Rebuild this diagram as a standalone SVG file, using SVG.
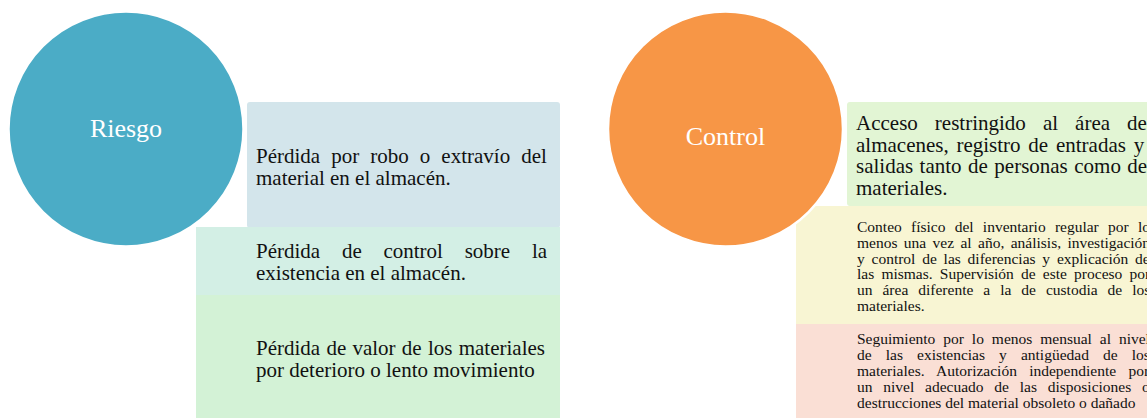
<svg xmlns="http://www.w3.org/2000/svg" width="1147" height="418" viewBox="0 0 1147 418">
<style>
.box{stroke:none}
.circ{stroke:#ffffff;stroke-width:2.5}
.ctext{font-family:"Liberation Serif","Times New Roman",serif;font-size:26px;fill:#ffffff;text-anchor:middle}
.t{font-family:"Liberation Serif","Times New Roman",serif;font-size:21px;fill:#111111}
.s{font-family:"Liberation Serif","Times New Roman",serif;font-size:15.5px;fill:#111111}
</style>
<rect width="1147" height="418" fill="#ffffff"/>

<g id="riesgo-box1">
<rect class="box" x="247" y="102" width="313" height="126" rx="3" fill="#d3e5eb"/>
<text class="t" x="256" y="163" word-spacing="5.8">Pérdida por robo o extravío del</text>
<text class="t" x="256" y="185">material en el almacén.</text>
</g>
<g id="riesgo-box2">
<rect class="box" x="196" y="227" width="364" height="69" fill="#d3efe5"/>
<text class="t" x="256" y="258" word-spacing="16.5">Pérdida de control sobre la</text>
<text class="t" x="256" y="280">existencia en el almacén.</text>
</g>
<g id="riesgo-box3">
<rect class="box" x="196" y="295" width="364" height="123" fill="#d3f2d6"/>
<text class="t" x="256" y="355" word-spacing="1">Pérdida de valor de los materiales</text>
<text class="t" x="256" y="377">por deterioro o lento movimiento</text>
</g>
<g id="riesgo">
<circle class="circ" cx="126" cy="129" r="117.5" fill="#4bacc6"/>
<text class="ctext" x="126" y="137">Riesgo</text>
</g>

<g id="control-box1">
<rect class="box" x="847" y="102" width="304" height="104" rx="3" fill="#e2f5d4"/>
<text class="t" x="856" y="130" word-spacing="11.8">Acceso restringido al área de</text>
<text class="t" x="856" y="152" word-spacing="2.5">almacenes, registro de entradas y</text>
<text class="t" x="856" y="173" word-spacing="1.2">salidas tanto de personas como de</text>
<text class="t" x="856" y="195">materiales.</text>
</g>
<g id="control-box2">
<rect class="box" x="796" y="206" width="355" height="119" fill="#f8f5d3"/>
<text class="s" x="857" y="232" word-spacing="5.35">Conteo físico del inventario regular por lo</text>
<text class="s" x="857" y="247.8" word-spacing="2.5">menos una vez al año, análisis, investigación</text>
<text class="s" x="857" y="263.6" word-spacing="2.9">y control de las diferencias y explicación de</text>
<text class="s" x="857" y="279.4" word-spacing="3.3">las mismas. Supervisión de este proceso por</text>
<text class="s" x="857" y="295.2" word-spacing="6.1">un área diferente a la de custodia de los</text>
<text class="s" x="857" y="311">materiales.</text>
</g>
<g id="control-box3">
<rect class="box" x="796" y="324" width="355" height="94" fill="#fadfd5"/>
<text class="s" x="857" y="344" word-spacing="4.05">Seguimiento por lo menos mensual al nivel</text>
<text class="s" x="857" y="360" word-spacing="10.2">de las existencias y antigüedad de los</text>
<text class="s" x="857" y="376" word-spacing="8.4">materiales. Autorización independiente por</text>
<text class="s" x="857" y="392" word-spacing="6.9">un nivel adecuado de las disposiciones o</text>
<text class="s" x="857" y="408">destrucciones del material obsoleto o dañado</text>
</g>
<g id="control">
<circle class="circ" cx="725.5" cy="129" r="117.5" fill="#f79646"/>
<text class="ctext" x="725.5" y="145">Control</text>
</g>

<g id="connectors"/>
</svg>
